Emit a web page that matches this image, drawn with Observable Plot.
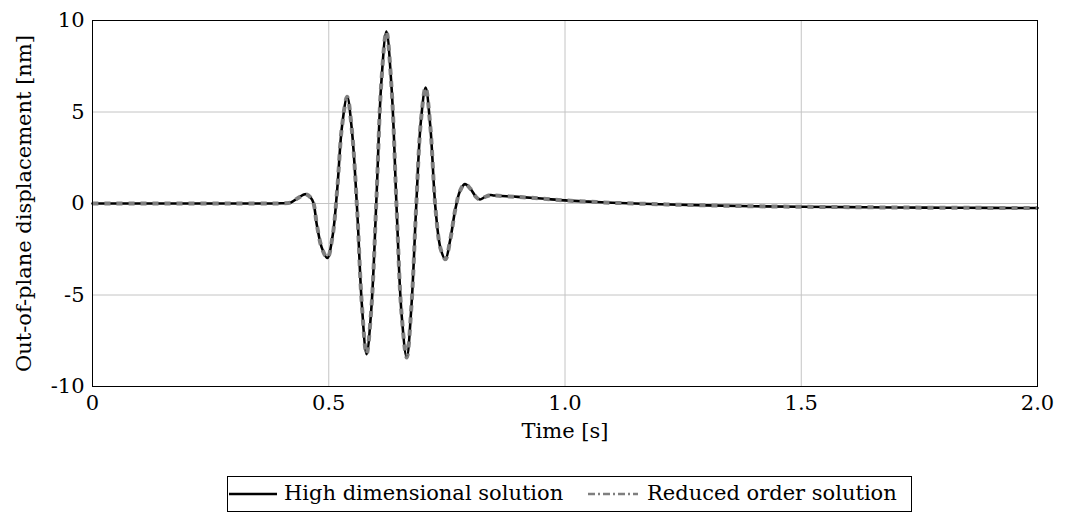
<!DOCTYPE html>
<html>
<head>
<meta charset="utf-8">
<script src="https://cdn.jsdelivr.net/npm/d3@7"></script>
<script src="https://cdn.jsdelivr.net/npm/@observablehq/plot@0.6"></script>
<style>
  html, body { margin: 0; padding: 0; background: #fff; }
  #wrap { position: relative; width: 1069px; height: 512px; overflow: hidden; font-family: "DejaVu Serif", "Liberation Serif", serif; }
  #legend { position: absolute; left: 227px; top: 476px; width: 683px; height: 34px; border: 1px solid #000; box-sizing: content-box;
            font-size: 21px; color: #000; }
  #legend .sample { position: absolute; top: 12px; display: block; }
  #legend .txt { position: absolute; top: 3px; white-space: nowrap; line-height: 26px; }
</style>
</head>
<body>
<div id="wrap">
  <div id="chart"></div>
  <div id="legend"></div>
</div>
<script>
// Time samples [s]
const time = [0, 0.1, 0.2, 0.3, 0.38, 0.40, 0.42, 0.435, 0.451, 0.465, 0.475, 0.485, 0.497, 0.508, 0.518, 0.528, 0.539, 0.549, 0.56, 0.57, 0.580, 0.590, 0.601, 0.611, 0.622, 0.633, 0.644, 0.654, 0.665, 0.675, 0.685, 0.695, 0.705, 0.715, 0.726, 0.737, 0.747, 0.757, 0.768, 0.778, 0.788, 0.800, 0.812, 0.820, 0.830, 0.842, 0.85, 0.9, 0.95, 1.0, 1.05, 1.1, 1.2, 1.3, 1.4, 1.5, 1.6, 1.7, 1.8, 1.9, 2.0];
// High dimensional solution [nm]
const highDim = [0, 0, 0, 0, 0, 0.01, 0.06, 0.3, 0.51, 0.2, -1.2, -2.4, -2.98, -1.8, 0.8, 4.2, 5.83, 4.0, -0.3, -5.5, -8.23, -5.8, 0.3, 6.5, 9.40, 6.3, -0.5, -6.0, -8.42, -5.6, -0.2, 4.5, 6.34, 4.2, -0.3, -2.5, -3.04, -2.0, -0.3, 0.7, 1.06, 0.8, 0.35, 0.22, 0.35, 0.46, 0.44, 0.36, 0.27, 0.17, 0.1, 0.04, -0.04, -0.1, -0.15, -0.18, -0.2, -0.22, -0.23, -0.24, -0.25];
// Reduced order solution [nm]
const reducedOrder = [0, 0, 0, 0, 0, 0.01, 0.06, 0.3, 0.51, 0.2, -1.2, -2.4, -2.98, -1.8, 0.8, 4.2, 5.83, 4.0, -0.3, -5.5, -8.23, -5.8, 0.3, 6.5, 9.40, 6.3, -0.5, -6.0, -8.42, -5.6, -0.2, 4.5, 6.34, 4.2, -0.3, -2.5, -3.04, -2.0, -0.3, 0.7, 1.06, 0.8, 0.35, 0.22, 0.35, 0.46, 0.44, 0.36, 0.27, 0.17, 0.1, 0.04, -0.04, -0.1, -0.15, -0.18, -0.2, -0.22, -0.23, -0.24, -0.25];

const xTicks = [0, 0.5, 1.0, 1.5, 2.0];
const xTickLabels = ["0", "0.5", "1.0", "1.5", "2.0"];
const yTicks = [-10, -5, 0, 5, 10];
const yTickLabels = ["-10", "-5", "0", "5", "10"];
const seriesNames = ["High dimensional solution", "Reduced order solution"];
const xLabel = "Time [s]";
const yLabel = "Out-of-plane displacement [nm]";

const hiData = time.map((t, i) => ({t, v: highDim[i]}));
const roData = time.map((t, i) => ({t, v: reducedOrder[i]}));

const fontFamily = '"DejaVu Serif", "Liberation Serif", serif';

const chart = Plot.plot({
  width: 1069,
  height: 450,
  marginLeft: 92,
  marginRight: 32,
  marginTop: 20,
  marginBottom: 64,
  style: {fontFamily, fontSize: "21px", color: "#000", background: "#fff", overflow: "visible"},
  x: {domain: [0, 2]},
  y: {domain: [-10, 10]},
  marks: [
    Plot.gridX(xTicks, {stroke: "#c4c4c4", strokeOpacity: 1, strokeWidth: 1}),
    Plot.gridY(yTicks, {stroke: "#c4c4c4", strokeOpacity: 1, strokeWidth: 1}),
    Plot.axisX(xTicks, {tickSize: 0, tickPadding: 9, tickFormat: (d, i) => xTickLabels[i], label: null, fontSize: 21}),
    Plot.axisY(yTicks, {tickSize: 0, tickPadding: 8, tickFormat: (d, i) => yTickLabels[i], label: null, fontSize: 21}),
    Plot.line(hiData, {x: "t", y: "v", stroke: "#000", strokeWidth: 2.6, curve: "catmull-rom"}),
    Plot.line(roData, {x: "t", y: "v", stroke: "#7f7f7f", strokeWidth: 4, strokeDasharray: "6,6", curve: "catmull-rom", strokeLinecap: "butt"}),
    Plot.frame({stroke: "#000", strokeWidth: 1}),
    Plot.text([xLabel], {frameAnchor: "bottom", dy: 51, text: d => d, fontSize: 21, textAnchor: "middle"}),
    Plot.text([yLabel], {frameAnchor: "left", dx: -68, rotate: -90, text: d => d, fontSize: 21, textAnchor: "middle"})
  ]
});
document.getElementById("chart").appendChild(chart);

// Legend
const legend = document.getElementById("legend");
function addItem(name, sampleLeft, textLeft, styleFn) {
  const s = d3.create("svg").attr("class", "sample").attr("width", 50).attr("height", 10)
    .style("left", sampleLeft + "px");
  styleFn(s);
  legend.appendChild(s.node());
  const span = document.createElement("span");
  span.className = "txt";
  span.textContent = name;
  span.style.left = textLeft + "px";
  legend.appendChild(span);
}
addItem(seriesNames[0], 1, 56, s => s.append("line").attr("x1", 0).attr("x2", 48).attr("y1", 5).attr("y2", 5)
  .attr("stroke", "#000").attr("stroke-width", 2.6));
addItem(seriesNames[1], 360, 419, s => s.append("line").attr("x1", 0).attr("x2", 50).attr("y1", 5).attr("y2", 5)
  .attr("stroke", "#7f7f7f").attr("stroke-width", 2.6).attr("stroke-dasharray", "7,3,2,3"));
</script>
</body>
</html>
